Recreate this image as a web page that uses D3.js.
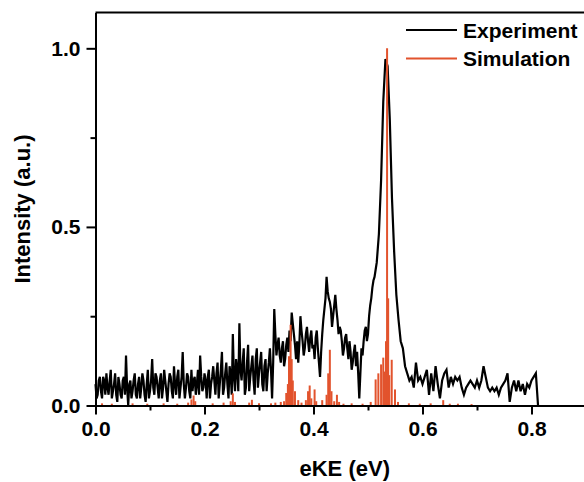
<!DOCTYPE html>
<html><head><meta charset="utf-8">
<script src="https://cdn.jsdelivr.net/npm/d3@7"></script>
<style>
body{margin:0;background:#fff}
svg{display:block}
text{font-family:"Liberation Sans",Arial,sans-serif;font-weight:bold;fill:#000}
</style>
</head><body>
<svg id="chart" width="584" height="482"></svg>
<script>
// Experimental photoelectron spectrum (eKE in eV, normalised intensity)
const expEnergy = [
0.000,0.002,0.004,0.006,0.008,0.010,0.012,0.014,0.016,0.018,
0.020,0.022,0.024,0.026,0.028,0.030,0.032,0.034,0.036,0.038,
0.040,0.042,0.044,0.046,0.048,0.050,0.052,0.054,0.056,0.058,
0.060,0.062,0.064,0.066,0.068,0.070,0.072,0.074,0.076,0.078,
0.080,0.082,0.084,0.086,0.088,0.090,0.092,0.094,0.096,0.098,
0.100,0.102,0.104,0.106,0.108,0.110,0.112,0.114,0.116,0.118,
0.120,0.122,0.124,0.126,0.128,0.130,0.132,0.134,0.136,0.138,
0.140,0.142,0.144,0.146,0.148,0.150,0.152,0.154,0.156,0.158,
0.160,0.162,0.164,0.166,0.168,0.170,0.172,0.174,0.176,0.178,
0.180,0.182,0.184,0.186,0.188,0.190,0.192,0.194,0.196,0.198,
0.200,0.202,0.204,0.206,0.208,0.210,0.212,0.214,0.216,0.218,
0.220,0.222,0.224,0.226,0.228,0.230,0.232,0.234,0.236,0.238,
0.240,0.242,0.244,0.246,0.248,0.250,0.252,0.254,0.256,0.258,
0.260,0.262,0.264,0.266,0.268,0.270,0.272,0.274,0.276,0.278,
0.280,0.282,0.284,0.286,0.288,0.290,0.292,0.294,0.296,0.298,
0.300,0.302,0.304,0.306,0.308,0.310,0.312,0.314,0.316,0.318,
0.320,0.322,0.324,0.326,0.328,0.330,0.332,0.334,0.336,0.338,
0.340,0.342,0.344,0.346,0.348,0.350,0.352,0.354,0.356,0.358,
0.360,0.362,0.364,0.366,0.368,0.370,0.372,0.374,0.376,0.378,
0.380,0.382,0.384,0.386,0.388,0.390,0.392,0.394,0.396,0.398,
0.400,0.402,0.404,0.406,0.408,0.410,0.412,0.414,0.416,0.418,
0.420,0.422,0.424,0.426,0.428,0.430,0.432,0.434,0.436,0.438,
0.440,0.442,0.444,0.446,0.448,0.450,0.452,0.454,0.456,0.458,
0.460,0.462,0.464,0.466,0.468,0.470,0.472,0.474,0.476,0.478,
0.480,0.482,0.484,0.486,0.488,0.490,0.492,0.494,0.496,0.498,
0.500,0.502,0.504,0.506,0.508,0.510,0.512,0.514,0.516,
0.520,0.524,0.528,0.532,0.536,0.540,0.544,0.548,0.552,0.556,
0.560,0.564,0.568,0.572,0.576,0.580,0.584,0.588,0.592,0.596,
0.600,0.604,0.608,0.612,0.616,0.620,0.624,0.628,0.632,0.636,
0.640,0.644,0.648,0.652,0.656,0.660,0.664,0.668,0.672,0.676,
0.680,0.684,0.688,0.692,0.696,0.700,0.704,0.708,0.712,0.716,
0.720,0.724,0.728,0.732,0.736,0.740,0.744,0.748,0.752,0.756,
0.760,0.764,0.768,0.772,0.776,0.780,0.784,0.788,0.792,0.796,
0.800,0.804,0.808,0.812];
const expIntensity = [
0.06,0.02,0.03,0.07,0.08,0.04,0.02,0.08,0.07,0.03,
0.09,0.05,0.03,0.07,0.10,0.02,0.04,0.06,0.09,0.03,
0.01,0.08,0.06,0.03,0.02,0.07,0.08,0.03,0.14,0.05,
0.00,0.06,0.07,0.02,0.04,0.07,0.09,0.03,0.02,0.06,
0.08,0.02,0.05,0.09,0.07,0.03,0.01,0.06,0.10,0.02,
0.04,0.07,0.13,0.05,0.03,0.09,0.08,0.05,0.02,0.07,
0.09,0.02,0.05,0.10,0.07,0.04,0.01,0.06,0.09,0.08,
0.04,0.02,0.11,0.06,0.03,0.08,0.10,0.02,0.05,0.08,
0.15,0.06,0.02,0.05,0.09,0.08,0.04,0.02,0.10,0.04,
0.07,0.08,0.03,0.06,0.10,0.03,0.14,0.08,0.04,0.05,
0.09,0.07,0.02,0.08,0.10,0.02,0.06,0.08,0.11,0.07,
0.03,0.09,0.12,0.02,0.06,0.10,0.15,0.03,0.05,0.09,
0.12,0.06,0.02,0.11,0.09,0.03,0.20,0.08,0.04,0.13,
0.10,0.04,0.23,0.10,0.07,0.12,0.16,0.03,0.05,0.12,
0.17,0.04,0.08,0.11,0.14,0.07,0.03,0.13,0.16,0.05,
0.09,0.12,0.15,0.06,0.04,0.11,0.13,0.04,0.09,0.12,
0.16,0.10,0.02,0.12,0.27,0.20,0.14,0.17,0.19,0.14,
0.12,0.16,0.18,0.11,0.13,0.17,0.19,0.15,0.21,0.18,
0.26,0.23,0.20,0.17,0.13,0.18,0.12,0.17,0.25,0.21,
0.18,0.14,0.16,0.20,0.22,0.18,0.15,0.19,0.21,0.16,
0.17,0.13,0.19,0.21,0.16,0.12,0.08,0.15,0.20,0.24,
0.27,0.30,0.36,0.32,0.30,0.29,0.27,0.22,0.25,0.28,
0.31,0.27,0.24,0.20,0.22,0.21,0.18,0.14,0.16,0.19,
0.20,0.16,0.13,0.18,0.15,0.10,0.12,0.15,0.17,0.11,
0.15,0.09,0.02,0.09,0.16,0.14,0.18,0.21,0.22,0.18,
0.20,0.25,0.28,0.30,0.33,0.35,0.36,0.38,0.40,
0.48,0.63,0.85,0.97,0.95,0.80,0.58,0.43,0.31,0.24,
0.18,0.16,0.11,0.09,0.07,0.08,0.05,0.12,0.07,0.08,
0.06,0.08,0.10,0.03,0.09,0.04,0.11,0.06,0.02,0.07,
0.09,0.10,0.05,0.08,0.06,0.08,0.07,0.08,0.05,0.03,
0.05,0.06,0.07,0.06,0.05,0.07,0.05,0.07,0.11,0.08,
0.05,0.04,0.05,0.04,0.05,0.03,0.05,0.06,0.07,0.09,
0.01,0.05,0.07,0.04,0.07,0.04,0.06,0.03,0.06,0.05,
0.07,0.08,0.09,0.00];

// Simulated stick spectrum
const simEnergy = [
0.012,0.030,0.068,0.095,0.125,0.150,0.170,0.176,0.180,0.183,
0.215,0.235,0.248,0.252,0.256,0.282,0.287,0.300,0.322,0.330,
0.340,0.346,0.350,0.353,0.355,0.358,0.360,0.362,0.366,0.372,
0.378,0.386,0.390,0.393,0.396,0.402,0.405,0.416,0.424,0.427,
0.430,0.433,0.438,0.443,0.447,0.455,0.470,0.490,0.505,0.514,
0.519,0.524,0.528,0.531,0.533,0.535,0.537,0.539,0.5435,0.5495,
0.555,0.575,0.595,0.615,0.638,0.650,0.665,0.690];
const simIntensity = [
0.006,0.005,0.006,0.005,0.006,0.005,0.008,0.017,0.028,0.012,
0.006,0.008,0.012,0.034,0.010,0.008,0.016,0.006,0.006,0.008,
0.010,0.012,0.035,0.060,0.138,0.226,0.130,0.070,0.040,0.015,
0.008,0.015,0.040,0.056,0.020,0.045,0.012,0.015,0.030,0.090,
0.156,0.040,0.012,0.030,0.010,0.005,0.006,0.005,0.010,0.073,
0.090,0.115,0.134,0.095,0.180,1.000,0.300,0.085,0.128,0.045,
0.010,0.006,0.005,0.006,0.015,0.005,0.005,0.004];

const seriesNames = ["Experiment","Simulation"];
const seriesColors = ["#000000","#e2532d"];
const xTicks = [0.0,0.2,0.4,0.6,0.8];
const xMinorTicks = [0.1,0.3,0.5,0.7];
const yTicks = [0.0,0.5,1.0];
const yMinorTicks = [0.25,0.75];
const xTitle = "eKE (eV)";
const yTitle = "Intensity (a.u.)";

const svg = d3.select("#chart");
const x = d3.scaleLinear().domain([0,0.9]).range([95.5,586]);
const y = d3.scaleLinear().domain([0,1.1]).range([405.5,12.6]);

// experiment line
const expData = expEnergy.map((e,i)=>[e,expIntensity[i]]);
svg.append("path")
  .datum(expData)
  .attr("d", d3.line().x(d=>x(d[0])).y(d=>y(d[1])))
  .attr("fill","none").attr("stroke",seriesColors[0])
  .attr("stroke-width",2.2).attr("stroke-linejoin","miter");

// simulation sticks
svg.append("g").selectAll("line")
  .data(simEnergy.map((e,i)=>[e,simIntensity[i]]))
  .join("line")
  .attr("x1",d=>x(d[0])).attr("x2",d=>x(d[0]))
  .attr("y1",y(0)).attr("y2",d=>y(d[1]))
  .attr("stroke",seriesColors[1]).attr("stroke-width",2);

// frame: top and right border
svg.append("line")
  .attr("x1",x(0)).attr("x2",x(0.9)).attr("y1",y(1.1)).attr("y2",y(1.1))
  .attr("stroke","#000").attr("stroke-width",2);
svg.append("line")
  .attr("x1",x(0.9)).attr("x2",x(0.9)).attr("y1",y(1.1)).attr("y2",y(0))
  .attr("stroke","#000").attr("stroke-width",2);

function styleAxis(g){
  g.select(".domain").attr("stroke","#000").attr("stroke-width",2);
  g.selectAll(".tick line").attr("stroke","#000").attr("stroke-width",2);
  g.selectAll(".tick text").attr("font-size",21).attr("font-weight","bold")
    .attr("font-family","'Liberation Sans',Arial,sans-serif").attr("fill","#000");
}

// x axis
const gx = svg.append("g").attr("transform",`translate(0,${y(0)})`)
  .call(d3.axisBottom(x).tickValues(xTicks).tickFormat(d3.format(".1f"))
    .tickSize(9).tickSizeOuter(0).tickPadding(7));
styleAxis(gx);
const gxm = svg.append("g").attr("transform",`translate(0,${y(0)})`)
  .call(d3.axisBottom(x).tickValues(xMinorTicks).tickFormat("").tickSize(5).tickSizeOuter(0));
styleAxis(gxm);

// y axis
const gy = svg.append("g").attr("transform",`translate(${x(0)},0)`)
  .call(d3.axisLeft(y).tickValues(yTicks).tickFormat(d3.format(".1f"))
    .tickSize(9).tickSizeOuter(0).tickPadding(6));
styleAxis(gy);
const gym = svg.append("g").attr("transform",`translate(${x(0)},0)`)
  .call(d3.axisLeft(y).tickValues(yMinorTicks).tickFormat("").tickSize(5).tickSizeOuter(0));
styleAxis(gym);

// titles
svg.append("text").attr("x",(x(0)+x(0.9))/2 + 4).attr("y",476)
  .attr("text-anchor","middle").attr("font-size",22).text(xTitle);
svg.append("text").attr("transform",`translate(30,${(y(0)+y(1.1))/2}) rotate(-90)`)
  .attr("text-anchor","middle").attr("font-size",22).text(yTitle);

// legend
const legend = svg.append("g");
seriesNames.forEach((name,i)=>{
  const ly = 30 + i*28.5;
  legend.append("line").attr("x1",406).attr("x2",457).attr("y1",ly).attr("y2",ly)
    .attr("stroke",seriesColors[i]).attr("stroke-width",2);
  legend.append("text").attr("x",463).attr("y",ly+7.5).attr("font-size",21).text(name);
});
</script>
</body></html>
